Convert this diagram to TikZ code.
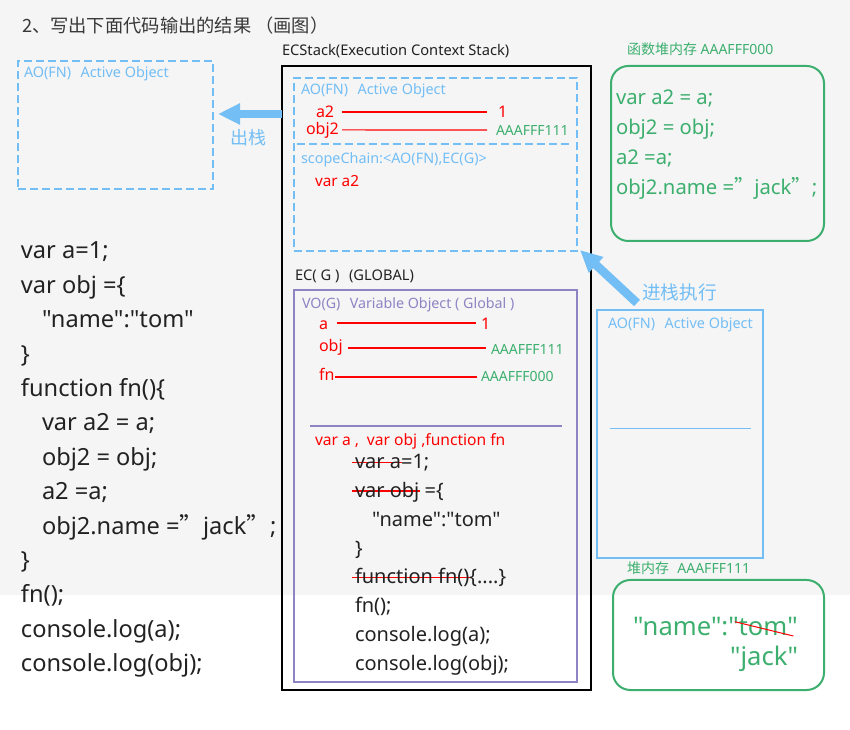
\documentclass[tikz,border=0pt]{standalone}
\usepackage{fontspec}
\setmainfont{Noto Sans}[Ligatures=TeXOff]
\newfontfamily\cjk{Noto Sans CJK SC}
\usetikzlibrary{arrows.meta,fit}
\definecolor{bgc}{HTML}{F5F5F5}
\definecolor{lblue}{RGB}{115,190,245}
\definecolor{grn}{RGB}{60,175,110}
\definecolor{purp}{RGB}{142,132,196}
\definecolor{txt}{RGB}{34,34,34}
\newcommand\fsz[1]{\fontsize{#1}{#1}\selectfont}
\newcommand\fq{\makebox[1em][l]{\cjk ”}}
\newsavebox\strkbox
\newcommand\strk[1]{\sbox\strkbox{#1}\rlap{\kern-2.5pt\textcolor{red}{\rule[0.3em]{\dimexpr\wd\strkbox+3pt\relax}{0.9pt}}}\usebox\strkbox}
\tikzset{
  t/.style={anchor=base west, inner sep=0pt, outer sep=0pt},
  lbl/.style={t, text=lblue, font=\fsz{10.8pt}},
  redl/.style={t, text=red, font=\fsz{12pt}},
  grnl/.style={t, text=grn, font=\fsz{10.5pt}},
  codeL/.style={t, text=txt, font=\fsz{17.7pt}},
  codeM/.style={t, text=txt, font=\fsz{15pt}},
  codeR/.style={t, text=grn, font=\fsz{15.2pt}},
  heapt/.style={t, text=grn, font=\fsz{19.2pt}},
  rline/.style={draw=red, line width=0.8pt},
  dashbox/.style={draw=lblue, line width=1.5pt, dash pattern=on 6pt off 3pt, inner sep=0pt, outer sep=0pt},
  dashline/.style={draw=lblue, line width=1.5pt, dash pattern=on 6pt off 3pt},
  solidbox/.style={line width=1.5pt, inner sep=0pt, outer sep=0pt},
  heapbox/.style={draw=grn, line width=1.5pt, rounded corners=13pt, inner sep=0pt, outer sep=0pt},
  bigarrow/.style={draw=lblue, line width=6.5pt, -{Triangle[length=16.5pt,width=15pt]}}
}
\begin{document}
\begin{tikzpicture}[x=0.75pt,y=-0.75pt]
\useasboundingbox (0,0) rectangle (850,730);
\fill[bgc] (0,0) rectangle (850,595);
\fill[white] (0,595) rectangle (850,730);

% title
\node[t, text=txt!90, font=\cjk\fsz{13.7pt}] (title) at (22,33) {2、写出下面代码输出的结果 （画图）};

% popped AO
\node[dashbox, fit={(18,61) (213,189)}] (aoOut) {};
\node[lbl] (aoOutL) at (24,78) {AO(FN)\hspace{0.65em}Active Object};
\node[t, text=lblue, font=\cjk\fsz{13.5pt}] (popL) at (230,145) {出栈};

% left code
\node[codeL] (l0) at (21,259) {var a=1;};
\node[codeL] (l1) at (21,293.4) {var obj =\{};
\node[codeL] (l2) at (42,327.8) {"name":"tom"};
\node[codeL] (l3) at (21,362.2) {\}};
\node[codeL] (l4) at (21,396.6) {function fn()\{};
\node[codeL] (l5) at (42,431) {var a2 = a;};
\node[codeL] (l6) at (42,465.4) {obj2 = obj;};
\node[codeL] (l7) at (42,499.8) {a2 =a;};
\node[codeL] (l8) at (42,534.2) {obj2.name =\fq jack\fq;};
\node[codeL] (l9) at (21,568.6) {\}};
\node[codeL] (l10) at (21,603) {fn();};
\node[codeL] (l11) at (21,637.4) {console.log(a);};
\node[codeL] (l12) at (21,671.8) {console.log(obj);};

% ECStack
\node[t, text=txt, font=\fsz{11pt}] (ecsL) at (282,56) {ECStack(Execution Context Stack)};
\node[draw=black, solidbox, fit={(282,66) (591,690)}] (ecs) {};
\node[dashbox, fit={(294,78) (577,251)}] (aoIn) {};
\draw[dashline] (297,144) -- (571,144);
\node[lbl] (aoInL) at (301,95) {AO(FN)\hspace{0.65em}Active Object};
\node[redl] (a2) at (316,118) {a2};
\node[redl] (v1) at (498,118) {1};
\node[redl] (obj2) at (306,134.5) {obj2};
\node[grnl] (v111) at (496,136) {AAAFFF111};
\draw[rline] ([xshift=6pt,yshift=4.5pt]a2.base east) -- ([xshift=-8.25pt,yshift=4.5pt]v1.base west);
\draw[rline] ([xshift=2.5pt,yshift=3.4pt]obj2.base east) -- ([xshift=-6.75pt,yshift=4.5pt]v111.base west);
\node[lbl] (scope) at (301,164) {scopeChain:<AO(FN),EC(G)>};
\node[redl, font=\fsz{11.5pt}] (vara2) at (315,187) {var a2};

% EC(G)
\node[t, text=txt, font=\fsz{11pt}] (ecgL) at (295,281) {EC( G )\hspace{0.65em}(GLOBAL)};
\node[draw=purp, solidbox, fit={(294,290) (577,682)}] (vo) {};
\node[t, text=purp, font=\fsz{10.7pt}] (voL) at (302,309) {VO(G)\hspace{0.65em}Variable Object ( Global )};
\node[redl] (ga) at (319,330) {a};
\node[redl] (g1) at (481,330) {1};
\node[redl] (gobj) at (319,352) {obj};
\node[grnl] (g111) at (491,355) {AAAFFF111};
\node[redl] (gfn) at (319,381) {fn};
\node[grnl] (g000) at (481,382) {AAAFFF000};
\draw[rline] ([xshift=6.75pt,yshift=5.25pt]ga.base east) -- ([xshift=-3.75pt,yshift=5.25pt]g1.base west);
\draw[rline] ([xshift=4pt,yshift=3pt]gobj.base east) -- ([xshift=-3.75pt,yshift=5.25pt]g111.base west);
\draw[rline] ([xshift=0.5pt,yshift=3pt]gfn.base east) -- ([xshift=-3pt,yshift=3.75pt]g000.base west);
\draw[purp, line width=1.1pt] (310,426) -- (562,426);
\node[redl, font=\fsz{11.7pt}] (decl) at (315,446) {var a ,\hspace{0.5em}var obj ,function fn};
\node[codeM] (m1) at (355,469) {\strk{var a}=1;};
\node[codeM] (m2) at (355,497.7) {\strk{var obj} =\{};
\node[codeM] (m3) at (372,526.4) {"name":"tom"};
\node[codeM] (m4) at (355,555.1) {\}};
\node[codeM] (m5) at (355,583.9) {\strk{function fn()}\{....\}};
\node[codeM] (m6) at (355,612.6) {fn();};
\node[codeM] (m7) at (355,641.3) {console.log(a);};
\node[codeM] (m8) at (355,670) {console.log(obj);};

% function heap
\node[grnl] (fheapL) at (627,55) {{\cjk 函数堆内存} AAAFFF000};
\node[heapbox, fit={(611,66) (824,241)}] (fheap) {};
\node[codeR] (r1) at (616,105) {var a2 = a;};
\node[codeR] (r2) at (616,135) {obj2 = obj;};
\node[codeR] (r3) at (616,165) {a2 =a;};
\node[codeR] (r4) at (616,195) {obj2.name =\fq jack\fq;};

% pushed AO
\node[t, text=lblue, font=\cjk\fsz{14pt}] (pushL) at (642,300) {进栈执行};
\node[draw=lblue, solidbox, fit={(597,310) (763,558)}] (aoNew) {};
\node[lbl] (aoNewL) at (608,329) {AO(FN)\hspace{0.65em}Active Object};
\draw[lblue, line width=0.75pt] (610,429) -- (751,429);

% object heap
\node[grnl] (oheapL) at (627,574) {{\cjk 堆内存}\hspace{0.6em}AAAFFF111};
\node[heapbox, fit={(613,580) (824,690)}] (oheap) {};
\node[heapt] (nm) at (633,636) {"name":"};
\node[heapt] (tom) at (nm.base east) {tom};
\node[heapt] (q) at (tom.base east) {"};
\node[heapt, anchor=base east] (jack) at (798,665) {"jack"};
\draw[red, line width=0.75pt] ([xshift=-3pt,yshift=4.5pt]tom.west) -- ([xshift=4.5pt]tom.base east);

% arrows
\coordinate (popTip) at (218,114);
\draw[bigarrow] (ecs.west |- popTip) -- (popTip);
\coordinate (pushFrom) at (637,303);
\draw[bigarrow] (pushFrom) -- ([xshift=2.25pt,yshift=0.75pt]aoIn.south east);
\end{tikzpicture}
\end{document}
